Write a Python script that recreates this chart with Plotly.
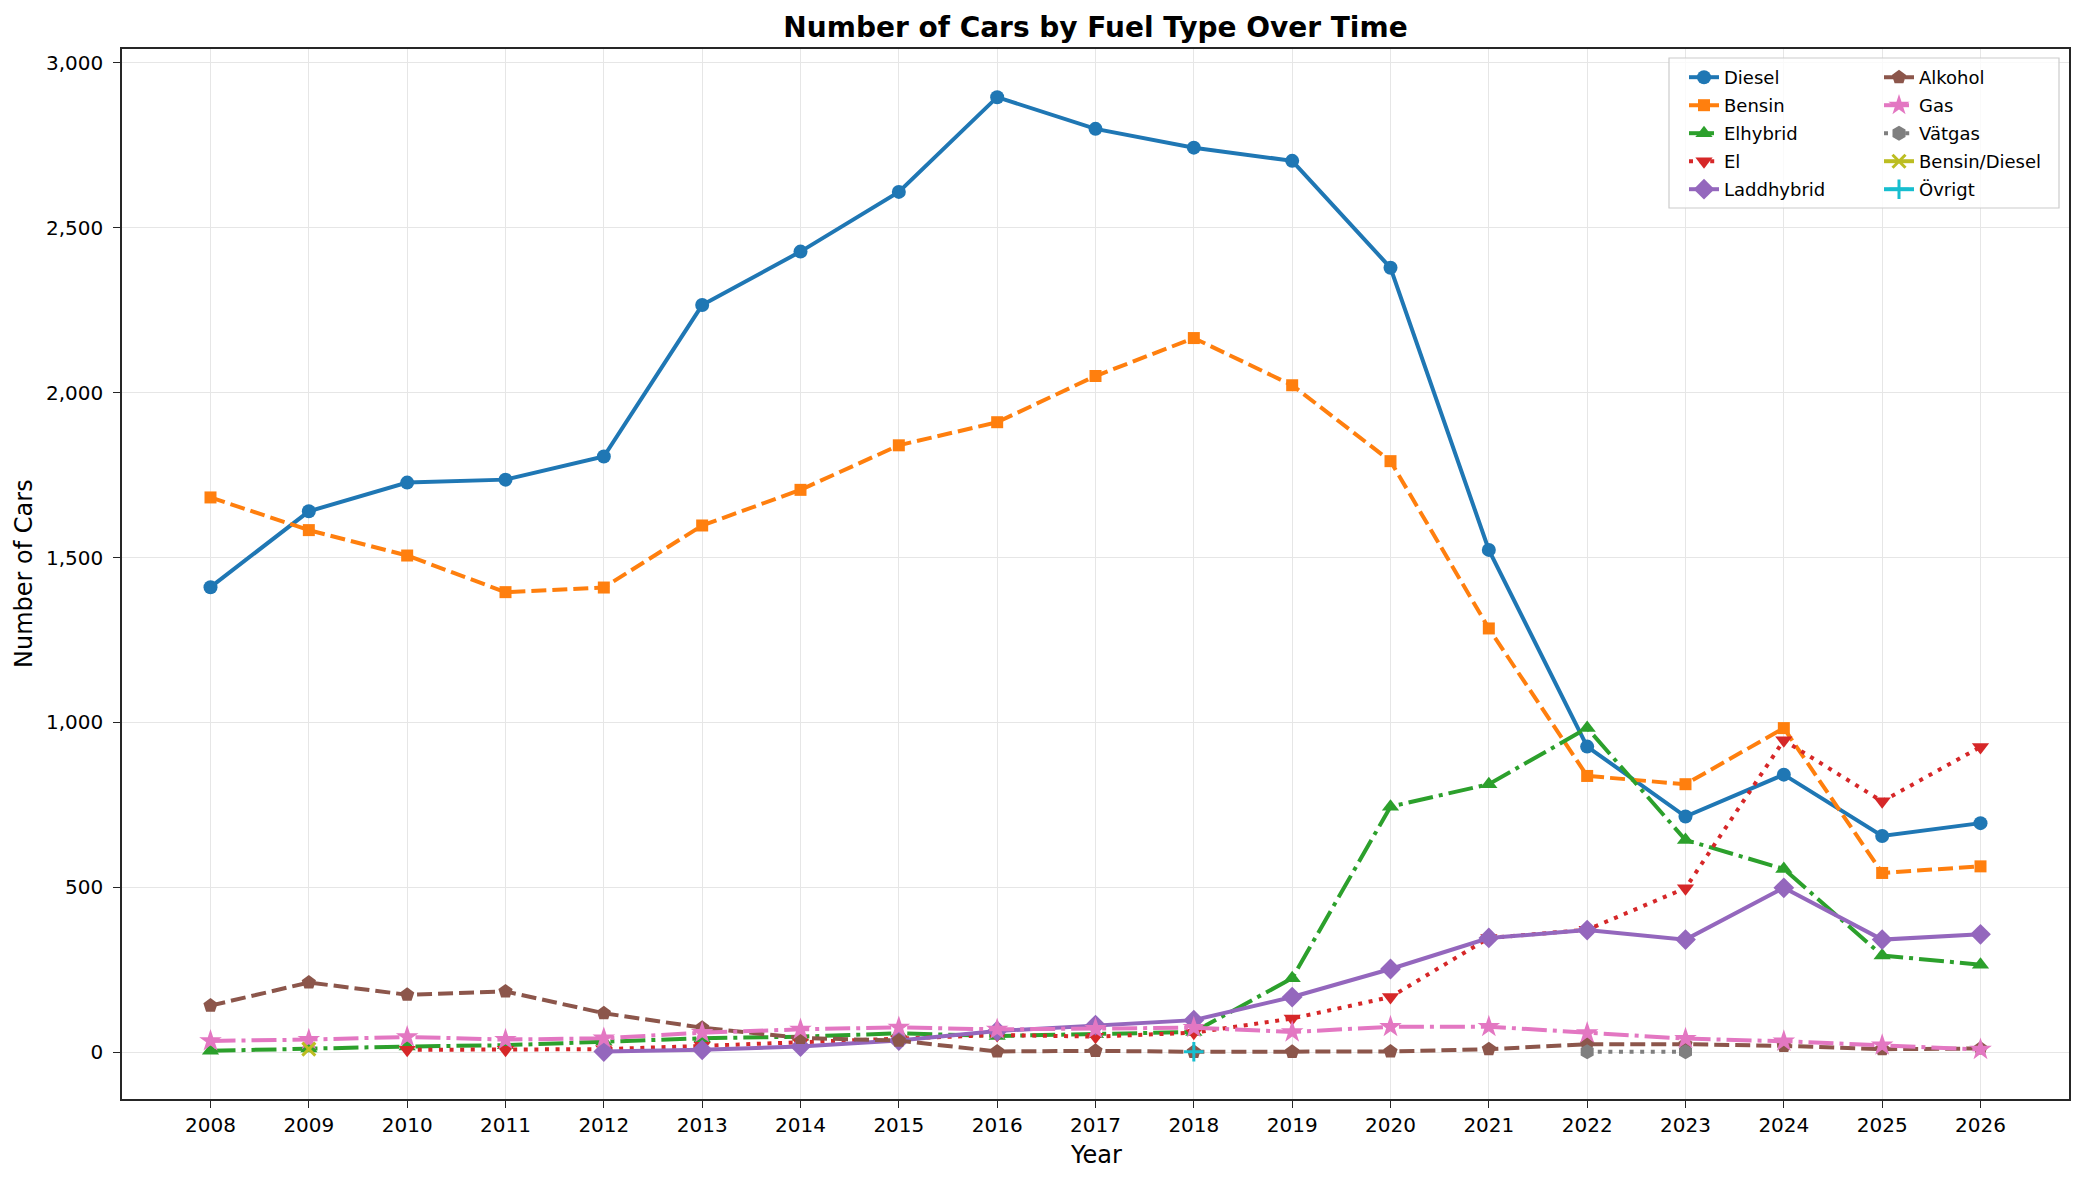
import plotly.graph_objects as go

years = list(range(2008, 2027))

diesel = [1410, 1640, 1727, 1736, 1806, 2265, 2427, 2608, 2895, 2799, 2742, 2702, 2378, 1523, 927, 715, 842, 656, 695]
bensin = [1682, 1583, 1506, 1395, 1409, 1597, 1705, 1840, 1910, 2050, 2165, 2022, 1792, 1285, 838, 813, 983, 544, 564]
elhybrid = [5, 12, 18, 22, 33, 43, 48, 58, 50, 55, 62, 225, 745, 813, 983, 644, 556, 294, 266]
el = [None, None, 8, 8, 10, 20, 30, 40, 53, 48, 60, 103, 168, 347, 372, 498, 946, 761, 926]
laddhybrid = [None, None, None, None, 3, 8, 18, 36, 65, 83, 98, 168, 253, 347, 371, 342, 499, 342, 358]
alkohol = [142, 212, 175, 185, 119, 75, 44, 36, 3, 5, 2, 2, 3, 10, 25, 25, 20, 10, 12]
gas = [35, 39, 47, 39, 43, 60, 70, 76, 70, 72, 75, 62, 78, 78, 59, 42, 34, 22, 9]
vatgas = [None] * 14 + [2, 2] + [None] * 3
bensin_diesel = [None, 10] + [None] * 17
ovrigt = [None] * 10 + [2] + [None] * 8

yticks = [0, 500, 1000, 1500, 2000, 2500, 3000]

FONT = "DejaVu Sans"
DASHED = "15px,6px"
DOTTED = "4px,6.6px"
DASHDOT = "25px,6px,4px,6px"

series = [
    ("Diesel", diesel, "#1f77b4", "solid", "circle", 14, "legend"),
    ("Bensin", bensin, "#ff7f0e", DASHED, "square", 12, "legend"),
    ("Elhybrid", elhybrid, "#2ca02c", DASHDOT, "triangle-up", 15, "legend"),
    ("El", el, "#d62728", DOTTED, "triangle-down", 15, "legend"),
    ("Laddhybrid", laddhybrid, "#9467bd", "solid", "diamond", 16, "legend"),
    ("Alkohol", alkohol, "#8c564b", DASHED, "pentagon", 15, "legend2"),
    ("Gas", gas, "#e377c2", DASHDOT, "star", 17, "legend2"),
    ("Vätgas", vatgas, "#7f7f7f", DOTTED, "hexagon", 15, "legend2"),
    ("Bensin/Diesel", bensin_diesel, "#bcbd22", "solid", "x-thin", 13, "legend2"),
    ("Övrigt", ovrigt, "#17becf", "solid", "cross-thin", 14, "legend2"),
]

fig = go.Figure()
for name, vals, color, dash, sym, size, leg in series:
    thin = sym.endswith("-thin")
    fig.add_trace(go.Scatter(
        x=years, y=vals, name=name, mode="lines+markers",
        line=dict(color=color, width=4, dash=dash),
        marker=dict(symbol=sym, size=size, color=color,
                    line=dict(color=color, width=3 if thin else 0)),
        legend=leg, legendgroup=name,
    ))

L, R, T, B = 122, 2069, 49, 1099
W, H = 2083, 1182
PW, PH = R - L, B - T


def px(x):
    return (x - L) / PW


def py(y):
    return (B - y) / PH


axis_common = dict(
    showline=True, linecolor="#262626", linewidth=1.6, mirror=True,
    ticks="outside", ticklen=7, tickwidth=1.4, tickcolor="#262626",
    showgrid=True, gridcolor="#e6e6e6", gridwidth=1.2, zeroline=False,
    tickfont=dict(family=FONT, size=20, color="black"),
)

fig.update_layout(
    width=W, height=H,
    margin=dict(l=L, r=W - R, t=T, b=H - B),
    plot_bgcolor="white", paper_bgcolor="white",
    font=dict(family=FONT, color="black"),
    title=dict(text="<b>Number of Cars by Fuel Type Over Time</b>",
               font=dict(family=FONT, size=28, color="black"),
               x=px((L + R) / 2), xanchor="center", xref="paper",
               y=1 - 27 / H, yanchor="middle", yref="container"),
    xaxis=dict(range=[2007.1, 2026.9], tickvals=years, **axis_common),
    yaxis=dict(range=[-141, 3041], tickvals=yticks, tickformat=",",
               ticklabelstandoff=6, **axis_common),
    legend=dict(x=px(1684), y=py(59), xanchor="left", yanchor="top",
                bgcolor="rgba(0,0,0,0)", borderwidth=0,
                font=dict(family=FONT, size=18, color="black"),
                tracegroupgap=1.6),
    legend2=dict(x=px(1879), y=py(59), xanchor="left", yanchor="top",
                 bgcolor="rgba(0,0,0,0)", borderwidth=0,
                 font=dict(family=FONT, size=18, color="black"),
                 tracegroupgap=1.6),
    showlegend=True,
)

fig.add_shape(type="rect", xref="paper", yref="paper",
              x0=px(1669), x1=px(2059), y0=py(208), y1=py(58),
              fillcolor="rgba(255,255,255,0.8)",
              line=dict(color="#cccccc", width=1.2), layer="above")

fig.add_annotation(text="Year", xref="paper", yref="paper",
                   x=0.5, y=py(1155), showarrow=False,
                   xanchor="center", yanchor="middle",
                   font=dict(family=FONT, size=24, color="black"))
fig.add_annotation(text="Number of Cars", xref="paper", yref="paper",
                   x=px(24), y=0.5, showarrow=False, textangle=-90,
                   xanchor="center", yanchor="middle",
                   font=dict(family=FONT, size=24, color="black"))

fig.write_html("out.html",
               config={"displayModeBar": False},
               post_script="document.body.style.margin='0';document.body.style.overflow='hidden';")
